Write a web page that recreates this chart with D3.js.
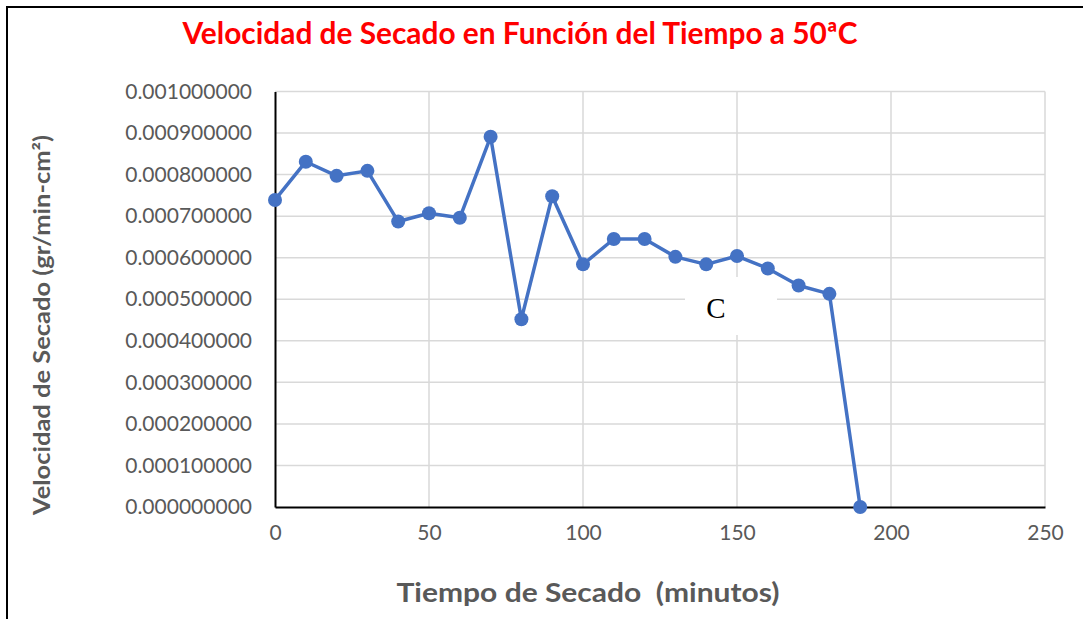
<!DOCTYPE html>
<html>
<head>
<meta charset="utf-8">
<script src="https://cdn.jsdelivr.net/npm/d3@7"></script>
<style>
  html, body { margin: 0; padding: 0; background: #fff; }
  svg { display: block; }
</style>
</head>
<body>
<svg id="chart" width="1083" height="619"></svg>
<script>
// --- data ---
const tiempo = [0, 10, 20, 30, 40, 50, 60, 70, 80, 90, 100, 110, 120, 130, 140, 150, 160, 170, 180, 190];
const velocidad = [
  0.000739, 0.000831, 0.000797, 0.000809, 0.000687, 0.000707, 0.000696, 0.000891,
  0.000452, 0.000748, 0.000584, 0.000645, 0.000645, 0.000602, 0.000584, 0.000604,
  0.000574, 0.000533, 0.000513, 0.0
];
const xTicks = [0, 50, 100, 150, 200, 250];
const yTicks = [0, 0.0001, 0.0002, 0.0003, 0.0004, 0.0005, 0.0006, 0.0007, 0.0008, 0.0009, 0.001];

const titleText = "Velocidad de Secado en Función del Tiempo a 50ªC";
const xTitle = "Tiempo de Secado  (minutos)";
const yTitle = "Velocidad de Secado (gr/min-cm²)";

const svg = d3.select("#chart");
const plot = { left: 275, right: 1045, top: 91.5, bottom: 507 };
const font = "Lato, 'Open Sans', sans-serif";
const grey = "#595959";
const blue = "#4472C4";

const x = d3.scaleLinear().domain([0, 250]).range([plot.left, plot.right]);
const y = d3.scaleLinear().domain([0, 0.001]).range([plot.bottom, plot.top]);

// outer frame (only top and left edges show)
svg.append("line").attr("x1", 6).attr("x2", 1083).attr("y1", 7).attr("y2", 7)
  .attr("stroke", "#000").attr("stroke-width", 2);
svg.append("line").attr("x1", 7).attr("x2", 7).attr("y1", 6).attr("y2", 619)
  .attr("stroke", "#000").attr("stroke-width", 2);

// gridlines
svg.append("g").selectAll("line").data(yTicks.slice(1)).join("line")
  .attr("x1", plot.left).attr("x2", plot.right)
  .attr("y1", d => y(d)).attr("y2", d => y(d))
  .attr("stroke", "#d9d9d9").attr("stroke-width", 1.5);
svg.append("g").selectAll("line").data(xTicks.slice(1)).join("line")
  .attr("x1", d => x(d)).attr("x2", d => x(d))
  .attr("y1", plot.top).attr("y2", plot.bottom)
  .attr("stroke", "#d9d9d9").attr("stroke-width", 1.5);

// axes
const xAxis = svg.append("g")
  .attr("transform", `translate(0,${plot.bottom})`)
  .call(d3.axisBottom(x).tickValues(xTicks).tickSize(0).tickPadding(18).tickFormat(d3.format("d")));
const yAxis = svg.append("g")
  .attr("transform", `translate(${plot.left},0)`)
  .call(d3.axisLeft(y).tickValues(yTicks).tickSize(0).tickPadding(23).tickFormat(d3.format(".9f")));

[xAxis, yAxis].forEach(g => {
  g.select(".domain").attr("stroke", "#000").attr("stroke-width", 2);
  g.selectAll("text").attr("fill", grey).style("font-family", font).style("font-size", "21px");
});

// series
const pts = tiempo.map((t, i) => [t, velocidad[i]]);
svg.append("path").datum(pts)
  .attr("fill", "none").attr("stroke", blue).attr("stroke-width", 3.5)
  .attr("stroke-linejoin", "round")
  .attr("d", d3.line().x(d => x(d[0])).y(d => y(d[1])));
svg.append("g").selectAll("circle").data(pts).join("circle")
  .attr("cx", d => x(d[0])).attr("cy", d => y(d[1])).attr("r", 7)
  .attr("fill", blue);

// "C" text box
svg.append("rect").attr("x", 685).attr("y", 277).attr("width", 92).attr("height", 58).attr("fill", "#fff");
svg.append("text").attr("x", 716).attr("y", 318).attr("text-anchor", "middle")
  .style("font-family", "'Liberation Serif', 'Times New Roman', serif").style("font-size", "29px")
  .attr("fill", "#000").text("C");

// titles
svg.append("text").attr("x", 520).attr("y", 44).attr("text-anchor", "middle")
  .style("font-family", font).style("font-weight", "bold").style("font-size", "30px")
  .attr("fill", "#ff0000").attr("textLength", 675).attr("lengthAdjust", "spacingAndGlyphs")
  .text(titleText);
svg.append("text").attr("x", 588).attr("y", 602).attr("text-anchor", "middle")
  .style("font-family", font).style("font-weight", "bold").style("font-size", "27px")
  .style("white-space", "pre")
  .attr("fill", grey).attr("textLength", 383).attr("lengthAdjust", "spacingAndGlyphs")
  .text(xTitle);
svg.append("text").attr("transform", "translate(50,325) rotate(-90)").attr("text-anchor", "middle")
  .style("font-family", font).style("font-weight", "bold").style("font-size", "22px")
  .attr("fill", grey).attr("textLength", 380).attr("lengthAdjust", "spacingAndGlyphs")
  .text(yTitle);
</script>
</body>
</html>
